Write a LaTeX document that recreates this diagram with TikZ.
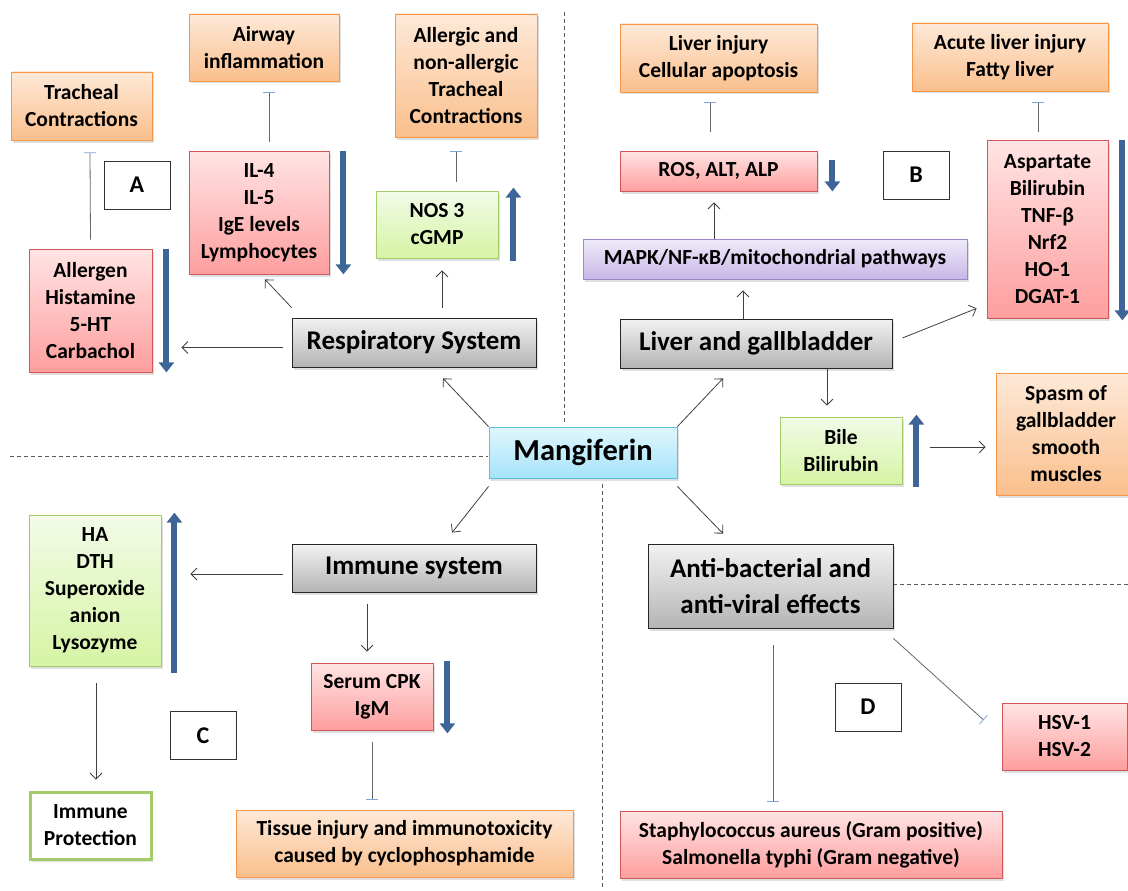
\documentclass[tikz,border=0pt]{standalone}
\usepackage{fontspec}
\setmainfont{Carlito}
\usepackage{tikz}
\usetikzlibrary{arrows.meta}
\usetikzlibrary{calc}
\usetikzlibrary{shadows}
\definecolor{orangetop}{HTML}{FDE9D8}
\definecolor{orangebot}{HTML}{FABF8C}
\definecolor{orangeline}{HTML}{F79646}
\definecolor{redtop}{HTML}{FFE4E4}
\definecolor{redbot}{HTML}{FE9E9E}
\definecolor{redline}{HTML}{D0585A}
\definecolor{greentop}{HTML}{F3FBE8}
\definecolor{greenbot}{HTML}{D5F4A3}
\definecolor{greenline}{HTML}{A3CB69}
\definecolor{purpletop}{HTML}{EFEBF9}
\definecolor{purplebot}{HTML}{C8B7E7}
\definecolor{purpleline}{HTML}{9F86C6}
\definecolor{cyantop}{HTML}{DFF6FD}
\definecolor{cyanbot}{HTML}{A6E3F9}
\definecolor{cyanline}{HTML}{5EBEDA}
\definecolor{graytop}{HTML}{F2F2F2}
\definecolor{graybot}{HTML}{B4B4B4}
\definecolor{arrowblue}{HTML}{3D6597}
\definecolor{barblue}{HTML}{7DA7D9}
\tikzstyle{box}=[rectangle, align=center, inner sep=2pt, line width=0.8pt,
    font=\bfseries\fontsize{21.5}{27}\selectfont,
    drop shadow={shadow xshift=1.5pt, shadow yshift=-2.5pt, opacity=0.25}]
\tikzstyle{box_orange}=[box, top color=orangetop, bottom color=orangebot, draw=orangeline]
\tikzstyle{box_red}=[box, top color=redtop, bottom color=redbot, draw=redline]
\tikzstyle{box_green}=[box, top color=greentop, bottom color=greenbot, draw=greenline]
\tikzstyle{box_purple}=[box, top color=purpletop, bottom color=purplebot, draw=purpleline]
\tikzstyle{box_system}=[box, top color=graytop, bottom color=graybot, draw=black!85,
    font=\bfseries\fontsize{27}{36}\selectfont]
\tikzstyle{box_drug}=[box, top color=cyantop, bottom color=cyanbot, draw=cyanline,
    font=\bfseries\fontsize{30.5}{36}\selectfont]
\tikzstyle{box_letter}=[rectangle, draw=black!80, fill=white, line width=0.8pt,
    minimum width=66, minimum height=48, font=\bfseries\fontsize{24}{24}\selectfont]
\tikzstyle{conn}=[draw=black!75, line width=0.8pt, -{Straight Barb[length=6pt,width=12pt]}]
\tikzstyle{inhib}=[draw=black!60, line width=0.8pt, -{Bar[width=12pt,color=barblue]}]
\tikzstyle{level}=[draw=arrowblue, line width=6pt, -{Triangle[length=10pt,width=15pt]}]
\tikzstyle{divider}=[draw=black!65, line width=0.8pt, dash pattern=on 4pt off 3pt]

\begin{document}
\begin{tikzpicture}[x=1pt,y=-1pt]
\useasboundingbox (0,0) rectangle (1128,891);
\draw[divider] (564,12) -- (564,424);
\draw[divider] (10,456) -- (488,456);
\draw[divider] (602,484) -- (602,888);
\draw[divider] (893,584) -- (1128,584);

\node[box_drug, minimum width=188, minimum height=51] (mang) at (583,452.5) {Mangiferin};

\node[box_system, minimum width=244, minimum height=49] (resp) at (414,342.5) {Respiratory System};
\node[box_orange, minimum width=141, minimum height=68] (trach) at (81.5,106) {Tracheal\\Contractions};
\node[box_orange, minimum width=150, minimum height=67] (airway) at (264,47.5) {Airway\\inflammation};
\node[box_orange, minimum width=142, minimum height=123] (allergic) at (466,75.5) {Allergic and\\non-allergic\\Tracheal\\Contractions};
\node[box_red, minimum width=140, minimum height=123] (il) at (259,212.5) {IL-4\\IL-5\\IgE levels\\Lymphocytes};
\node[box_red, minimum width=123, minimum height=123] (allergen) at (90.5,310.5) {Allergen\\Histamine\\5-HT\\Carbachol};
\node[box_green, minimum width=122, minimum height=67] (nos) at (437,224.5) {NOS 3\\cGMP};
\node[box_letter] (labelA) at (137,185) {A};

\node[box_system, minimum width=272, minimum height=49] (liver) at (756,343.5) {Liver and gallbladder};
\node[box_orange, minimum width=197, minimum height=68] (livinj) at (718.5,58) {Liver injury\\Cellular apoptosis};
\node[box_red, minimum width=197, minimum height=40] (ros) at (718.5,171) {ROS, ALT, ALP};
\node[box_purple, minimum width=384, minimum height=40] (mapk) at (775,259) {MAPK/NF-κB/mitochondrial pathways};
\node[box_orange, minimum width=196, minimum height=68] (acute) at (1010,57) {Acute liver injury\\Fatty liver};
\node[box_red, minimum width=121, minimum height=178] (asp) at (1047.5,229) {Aspartate\\Bilirubin\\TNF-β\\Nrf2\\HO-1\\DGAT-1};
\node[box_green, minimum width=122, minimum height=67] (bile) at (841,450.5) {Bile\\Bilirubin};
\node[box_orange, minimum width=140, minimum height=122] (spasm) at (1066,434) {Spasm of\\gallbladder\\smooth\\muscles};
\node[box_letter] (labelB) at (916,175) {B};

\node[box_system, minimum width=244, minimum height=48] (immune) at (414,568) {Immune system};
\node[box_green, minimum width=132, minimum height=151] (ha) at (95,590.5) {HA\\DTH\\Superoxide\\anion\\Lysozyme};
\node[box_red, minimum width=122, minimum height=67] (serum) at (372,696.5) {Serum CPK\\IgM};
\node[box, fill=white, draw=greenline, line width=3pt, minimum width=121, minimum height=67] (prot) at (90.5,825.5) {Immune\\Protection};
\node[box_orange, minimum width=337, minimum height=67] (tissue) at (404.5,843.5) {Tissue injury and immunotoxicity\\caused by cyclophosphamide};
\node[box_letter] (labelC) at (203,735.5) {C};

\node[box_system, minimum width=245, minimum height=84] (anti) at (770.5,586) {Anti-bacterial and\\anti-viral effects};
\node[box_red, minimum width=125, minimum height=67] (hsv) at (1064.5,736.5) {HSV-1\\HSV-2};
\node[box_red, minimum width=382, minimum height=67] (staph) at (811,844.5) {Staphylococcus aureus (Gram positive)\\Salmonella typhi (Gram negative)};
\node[box_letter] (labelD) at (868,707) {D};

\draw[conn] (mang.north west) -- ($(resp.south)+(29,11)$);
\draw[conn] (mang.north east) -- ($(liver.south)+(-33,10)$);
\draw[conn] ($(mang.south west)+(0,8)$) -- ($(immune.north)+(38,-11)$);
\draw[conn] ($(mang.south east)+(0,8)$) -- ($(anti.north)+(-47.5,-10)$);

\draw[conn] ($(resp.west)+(-9,5)$) -- ($(allergen.east)+(29,37)$);
\draw[conn] ($(resp.north west)+(0,-10)$) -- ($(il.south)+(6,5)$);
\draw[conn] ($(resp.north)+(28,-10)$) -- ($(nos.south)+(5,12)$);
\draw[inhib] ($(nos.north)+(19,-9)$) -- ($(allergic.south)+(-10,14)$);
\draw[inhib] ($(il.north)+(10,-9)$) -- ($(airway.south)+(5,11)$);
\draw[inhib] ($(allergen.north)+(0,-9)$) -- ($(trach.south)+(8.5,12)$);
\draw[level] ([xshift=14pt]il.north east) -- ([xshift=14pt]il.south east);
\draw[level] ([xshift=14pt]allergen.north east) -- ([xshift=14pt]allergen.south east);
\draw[level] ([xshift=15pt,yshift=-3pt]nos.south east) -- ([xshift=15pt,yshift=3pt]nos.north east);

\draw[conn] ($(liver.north)+(-13,0)$) -- ($(mapk.south)+(-32,11)$);
\draw[conn] ($(mapk.north)+(-61,0)$) -- ($(ros.south)+(-4.5,11)$);
\draw[inhib] ($(ros.north)+(-8.5,-19)$) -- ($(livinj.south)+(-8.5,10)$);
\draw[conn] ($(liver.east)+(10,-5.5)$) -- ($(asp.south west)+(-10,-10)$);
\draw[inhib] ($(asp.north)+(-9.5,-8)$) -- ($(acute.south)+(28,11)$);
\draw[conn] ($(liver.south)+(71,0)$) -- ($(bile.north)+(-14,-11)$);
\draw[conn] ($(bile.east)+(28,-3.5)$) -- ($(spasm.west)+(-10,13)$);
\draw[level] ([xshift=15pt,yshift=-9pt]ros.north east) -- ([xshift=15pt]ros.south east);
\draw[level] ([xshift=14pt]asp.north east) -- ([xshift=14pt,yshift=-2pt]asp.south east);
\draw[level] ([xshift=14pt,yshift=-3pt]bile.south east) -- ([xshift=14pt,yshift=2pt]bile.north east);

\draw[conn] ($(immune.west)+(-9,6)$) -- ($(ha.east)+(29,-16.5)$);
\draw[conn] ($(immune.south)+(-47,12)$) -- ($(serum.north)+(-5,-11)$);
\draw[conn] ($(ha.south)+(1,17)$) -- ($(prot.north)+(5.5,-11)$);
\draw[inhib] ($(serum.south)+(0,12)$) -- ($(tissue.north)+(-32.5,-10)$);
\draw[level] ([xshift=13pt,yshift=-7pt]ha.south east) -- ([xshift=13pt,yshift=2pt]ha.north east);
\draw[level] ([xshift=14pt,yshift=2pt]serum.north east) -- ([xshift=14pt,yshift=-3pt]serum.south east);

\draw[inhib] ($(anti.south)+(2.5,17)$) -- ($(staph.north)+(-38,-9)$);
\draw[inhib] ($(anti.south east)+(0,10)$) -- ($(hsv.west)+(-18,-16.5)$);
\end{tikzpicture}
\end{document}
